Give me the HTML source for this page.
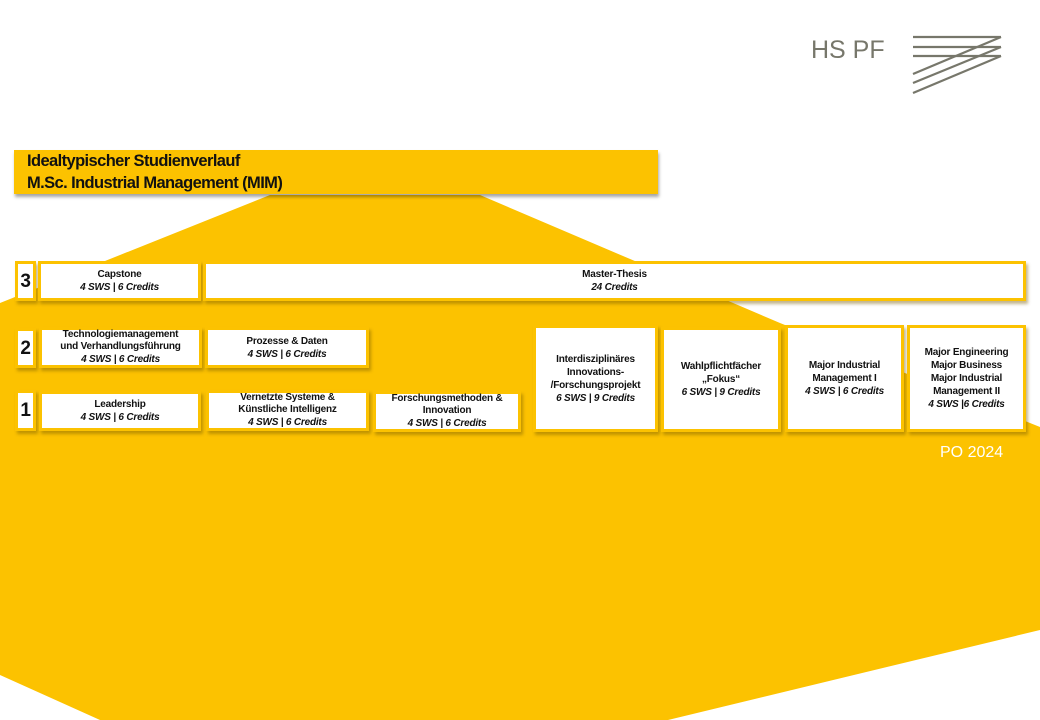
<!DOCTYPE html>
<html><head><meta charset="utf-8"><style>
body{margin:0;width:1040px;height:720px;position:relative;background:#fff;overflow:hidden;font-family:"Liberation Sans",sans-serif}
.b{position:absolute;box-sizing:border-box;background:#fff;border:3px solid #fcc200;box-shadow:2px 3px 3px rgba(120,90,0,.45);display:flex;flex-direction:column;justify-content:center;align-items:center;text-align:center;font-size:10px;font-weight:bold;line-height:13px;letter-spacing:-0.2px;color:#111}
.b i{font-style:italic}
.n{font-size:19px;font-weight:bold;line-height:19px}
</style></head><body>
<svg width="1040" height="720" style="position:absolute;left:0;top:0">
<polygon points="270,195 480,195 780,323 1040,427 1040,630 668,720 100,720 0,675 0,303" fill="#fcc200"/>
<g stroke="#77776b" stroke-width="2.2" fill="none">
<line x1="913" y1="37" x2="1001" y2="37"/><line x1="913" y1="47" x2="1001" y2="47"/><line x1="913" y1="56" x2="1001" y2="56"/>
<line x1="1001" y1="37" x2="913" y2="74"/><line x1="1001" y1="47" x2="913" y2="83"/><line x1="1001" y1="56" x2="913" y2="93"/>
</g>
<text x="811" y="58" font-family="Liberation Sans" font-size="25" fill="#77776b">HS PF</text>
</svg>
<div style="position:absolute;left:14px;top:150px;width:644px;height:44px;background:#fcc200;box-shadow:1px 3px 3px rgba(0,0,0,.35);font-weight:bold;font-size:16.5px;line-height:22px;letter-spacing:-0.6px;padding-left:13px;box-sizing:border-box;color:#111">Idealtypischer Studienverlauf<br>M.Sc. Industrial Management (MIM)</div>

<div class="b n" style="left:15px;top:261px;width:21px;height:40px">3</div>
<div class="b" style="left:38px;top:261px;width:163px;height:40px">Capstone<span><i>4 SWS | 6 Credits</i></span></div>
<div class="b" style="left:203px;top:261px;width:823px;height:40px">Master-Thesis<span><i>24 Credits</i></span></div>

<div class="b n" style="left:15px;top:328px;width:21px;height:40px">2</div>
<div class="b" style="left:39px;top:327px;width:163px;height:41px;line-height:12.5px">Technologiemanagement<br>und Verhandlungsführung<span><i>4 SWS | 6 Credits</i></span></div>
<div class="b" style="left:205px;top:327px;width:164px;height:41px">Prozesse &amp; Daten<span><i>4 SWS | 6 Credits</i></span></div>

<div class="b n" style="left:15px;top:390px;width:21px;height:41px">1</div>
<div class="b" style="left:39px;top:391px;width:162px;height:40px">Leadership<span><i>4 SWS | 6 Credits</i></span></div>
<div class="b" style="left:206px;top:390px;width:163px;height:41px;line-height:12.5px">Vernetzte Systeme &amp;<br>Künstliche Intelligenz<span><i>4 SWS | 6 Credits</i></span></div>
<div class="b" style="left:373px;top:391px;width:148px;height:41px;line-height:12.5px">Forschungsmethoden &amp;<br>Innovation<span><i>4 SWS | 6 Credits</i></span></div>

<div class="b" style="left:533px;top:325px;width:125px;height:107px">Interdisziplinäres<br>Innovations-<br>/Forschungsprojekt<span><i>6 SWS | 9 Credits</i></span></div>
<div class="b" style="left:661px;top:327px;width:120px;height:105px">Wahlpflichtfächer<br>„Fokus“<span><i>6 SWS | 9 Credits</i></span></div>
<div class="b" style="left:785px;top:325px;width:119px;height:107px">Major Industrial<br>Management I<span><i>4 SWS | 6 Credits</i></span></div>
<div class="b" style="left:907px;top:325px;width:119px;height:107px">Major Engineering<br>Major Business<br>Major Industrial<br>Management II<span><i>4 SWS |6 Credits</i></span></div>

<div style="position:absolute;left:940px;top:444px;color:#fff;font-size:16px;font-family:'Liberation Sans',sans-serif">PO 2024</div>
</body></html>
